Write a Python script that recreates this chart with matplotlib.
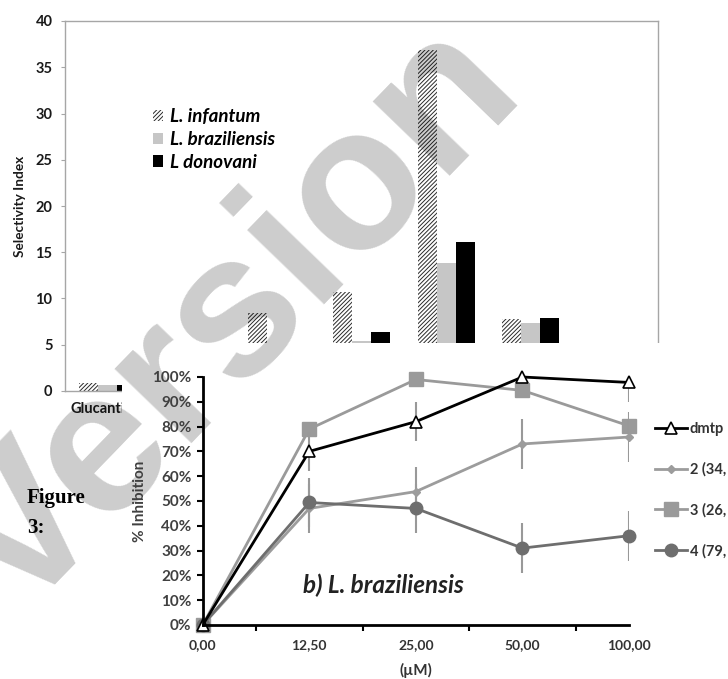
import matplotlib
matplotlib.use("Agg")
import matplotlib.pyplot as plt
from matplotlib.patches import Rectangle, Polygon
from matplotlib.ticker import PercentFormatter, MultipleLocator
import numpy as np

W, H = 728, 679

# Selectivity index (bar chart, partly hidden under the inhibition plot)
compounds = ["Glucantime", "", "", "", "", "", ""]
si_infantum = [0.9, 2.4, 8.4, 10.7, 36.9, 7.8, 3.0]
si_braziliensis = [0.65, 1.8, 3.1, 5.4, 13.8, 7.35, 2.2]
si_donovani = [0.65, 2.0, 4.2, 6.4, 16.1, 7.9, 2.6]

# % inhibition, L. braziliensis
conc_labels = ["0,00", "12,50", "25,00", "50,00", "100,00"]
inh_dmtp = [0, 70, 82, 100, 97.8]
err_dmtp = [0, 8, 8, 0, 8]
inh_2 = [0, 47, 53.8, 73, 75.8]
err_2 = [0, 10, 10, 10, 10]
inh_3 = [0, 79, 99, 94.6, 80.3]
inh_4 = [0, 49.4, 47, 31, 36]
err_4 = [0, 10, 10, 10, 10]


def fig_rect(x0, y0, x1, y1):
    # pixel box (top-left origin) -> figure fraction [l, b, w, h]
    return [x0 / W, 1 - y1 / H, (x1 - x0) / W, (y1 - y0) / H]


plt.rcParams["font.family"] = ["Lato", "DejaVu Sans"]
plt.rcParams["hatch.linewidth"] = 0.7

fig = plt.figure(figsize=(W / 100, H / 100), dpi=100, facecolor="white")

# ---- bar chart
ax1 = fig.add_axes(fig_rect(65, 21, 658, 391))
ax1.set_zorder(0)
x = np.arange(len(compounds))
w = 0.224
b1 = ax1.bar(x - w, si_infantum, w, color="white", edgecolor="#2a2a2a",
             hatch="////////", linewidth=0, label="L. infantum")
b2 = ax1.bar(x, si_braziliensis, w, color="#c6c6c6", linewidth=0,
             label="L. braziliensis")
b3 = ax1.bar(x + w, si_donovani, w, color="black", linewidth=0,
             label="L donovani")
ax1.set_xlim(-0.5, len(compounds) - 0.5)
ax1.set_ylim(0, 40)
ax1.yaxis.set_major_locator(MultipleLocator(5))
for s in ax1.spines.values():
    s.set_color("#a6a6a6")
    s.set_linewidth(1)
ax1.set_xticks(x)
ax1.set_xticklabels(compounds)
ax1.tick_params(axis="x", length=0, pad=8, labelsize=10.5, labelcolor="#1a1a1a")
ax1.tick_params(axis="y", length=3, color="#a6a6a6", pad=6, labelsize=10.5,
                labelcolor="#1a1a1a")
for t in ax1.get_xticklabels() + ax1.get_yticklabels():
    t.set_fontweight("bold")
ax1.set_ylabel("Selectivity Index", fontsize=9.8, fontweight="bold",
               color="#1a1a1a")
ax1.yaxis.set_label_coords(-0.066, 0.5)
ax1.legend(handles=[b1, b2, b3], loc="upper left",
           bbox_to_anchor=(153 / W, 1 - 108 / H), bbox_transform=fig.transFigure,
           frameon=False, borderpad=0, borderaxespad=0, handlelength=0.55,
           handleheight=0.55, handletextpad=0.37, labelspacing=0.31,
           prop={"size": 13.5, "weight": "bold", "style": "italic"})

# white backdrop of the pasted inhibition plot
fig.add_artist(Rectangle((122 / W, 0), 1 - 122 / W, 1 - 343 / H,
                         transform=fig.transFigure, facecolor="white",
                         edgecolor="none", zorder=1))

# watermark
wm = fig.text(235 / W, 1 - 322 / H, "Version", rotation=46, ha="center",
              va="center", fontsize=146, fontweight="bold",
              family="Liberation Sans", color="black", alpha=0.2, zorder=1.5)
clip = Polygon([(0, 0), (192 / W, 0), (192 / W, 1 - 343 / H), (1, 1 - 343 / H),
                (1, 1), (0, 1)], closed=True, transform=fig.transFigure)
wm.set_clip_path(clip)

# ---- inhibition line chart
ax2 = fig.add_axes(fig_rect(202.7, 377, 629, 625))
ax2.set_zorder(2)
ax2.patch.set_alpha(0)
xc = np.arange(len(conc_labels))

ax2.errorbar(xc, inh_dmtp, yerr=err_dmtp, fmt="none", ecolor="#999999",
             elinewidth=1.5, capsize=0)
ax2.errorbar(xc, inh_2, yerr=err_2, fmt="none", ecolor="#999999",
             elinewidth=1.5, capsize=0)
ax2.errorbar(xc, inh_4, yerr=err_4, fmt="none", ecolor="#999999",
             elinewidth=1.5, capsize=0)
l2, = ax2.plot(xc, inh_2, color="#9c9c9c", lw=2, marker="D", ms=4.5,
               label="2 (34,", clip_on=False)
l4, = ax2.plot(xc, inh_4, color="#6e6e6e", lw=2, marker="o", ms=9,
               label="4 (79,", clip_on=False)
l1, = ax2.plot(xc, inh_dmtp, color="black", lw=2, marker="^", ms=8.5,
               mfc="white", mec="black", mew=1.2, label="dmtp", clip_on=False)
l3, = ax2.plot(xc, inh_3, color="#9a9a9a", lw=2, marker="s", ms=9.5,
               label="3 (26,", clip_on=False, zorder=1.9)

ax2.set_xlim(0, len(conc_labels) - 1)
ax2.set_ylim(0, 100)
ax2.yaxis.set_major_locator(MultipleLocator(10))
ax2.yaxis.set_major_formatter(PercentFormatter(decimals=0))
ax2.set_xticks(xc)
ax2.set_xticklabels(conc_labels)
ax2.set_xticks([0.5, 1.5, 2.5, 3.5, 4], minor=True)
ax2.spines["top"].set_visible(False)
ax2.spines["right"].set_visible(False)
for s in ("left", "bottom"):
    ax2.spines[s].set_linewidth(2)
ax2.tick_params(axis="x", which="major", length=0, pad=10, labelsize=10,
                labelcolor="#333333")
ax2.tick_params(axis="x", which="minor", length=4, width=1.5)
ax2.tick_params(axis="y", length=4, width=1.5, pad=4, labelsize=11,
                labelcolor="#404040")
for t in ax2.get_xticklabels() + ax2.get_yticklabels():
    t.set_fontweight("bold")
ax2.set_xlabel("(\u00b5M)", fontsize=11, fontweight="bold", color="#333333",
               labelpad=9)
ax2.set_ylabel("% Inhibition", fontsize=11, fontweight="bold", color="#404040")
ax2.yaxis.set_label_coords(-0.13, 0.5)
ax2.text(0.235, 0.16, "b) L. braziliensis", transform=ax2.transAxes,
         fontsize=17.5, fontweight="bold", style="italic", color="#222222",
         va="center")
ax2.legend(handles=[l1, l2, l3, l4], loc="upper left",
           bbox_to_anchor=(655 / W, 1 - 422 / H), bbox_transform=fig.transFigure,
           frameon=False, borderpad=0, borderaxespad=0, numpoints=1,
           handlelength=2.2, handletextpad=0.2, labelspacing=1.8,
           prop={"size": 10.5, "weight": "bold"}, labelcolor="#333333")

# caption fragment
fig.text(27 / W, 1 - 498 / H, "Figure", family="Liberation Serif",
         fontweight="bold", fontsize=15, va="center", zorder=3)
fig.text(27 / W, 1 - 528 / H, "3:", family="Liberation Serif",
         fontweight="bold", fontsize=15, va="center", zorder=3)

fig.savefig("out.png", dpi=100, facecolor="white")
